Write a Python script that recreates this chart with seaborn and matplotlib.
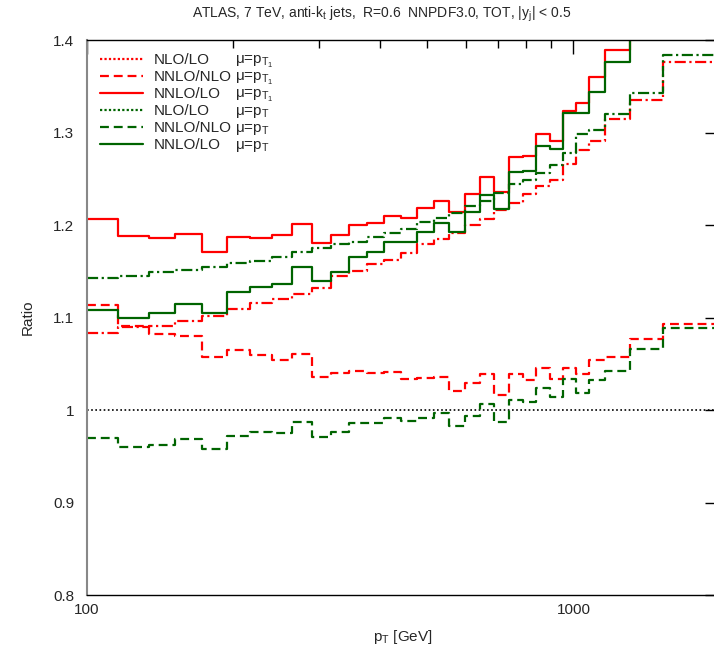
import numpy as np
import pandas as pd
import matplotlib
matplotlib.use("Agg")
import matplotlib.pyplot as plt
from matplotlib.lines import Line2D
import seaborn as sns

# ── data ───────────────────────────────────────────────────────────────────
edges = [100, 116, 134, 152, 172, 194, 216, 240, 264, 290, 318, 346, 376, 408,
         442, 478, 516, 556, 598, 642, 688, 736, 786, 838, 894, 952, 1012,
         1076, 1162, 1310, 1530, 1992]

nlo_lo_pt1 = [1.0836, 1.0900, 1.0908, 1.0966, 1.1020, 1.1089, 1.1153, 1.1200,
              1.1257, 1.1322, 1.1449, 1.1506, 1.1575, 1.1622, 1.1697, 1.1791,
              1.1845, 1.1910, 1.2000, 1.2061, 1.2162, 1.2241, 1.2335, 1.2425,
              1.2486, 1.2656, 1.2811, 1.2912, 1.3142, 1.3351, 1.3759]
nnlo_nlo_pt1 = [1.1135, 1.0905, 1.0818, 1.0800, 1.0576, 1.0645, 1.0591, 1.0540,
                1.0602, 1.0358, 1.0397, 1.0424, 1.0397, 1.0407, 1.0332, 1.0341,
                1.0360, 1.0205, 1.0287, 1.0388, 1.0162, 1.0389, 1.0324, 1.0457,
                1.0335, 1.0457, 1.0389, 1.0540, 1.0576, 1.0764, 1.0926]
nnlo_lo_pt1 = [1.2065, 1.1885, 1.1863, 1.1900, 1.1710, 1.1874, 1.1860, 1.1890,
               1.2010, 1.1805, 1.1895, 1.1997, 1.2025, 1.2097, 1.2080, 1.2187,
               1.2260, 1.2144, 1.2332, 1.2522, 1.2353, 1.2732, 1.2746, 1.2984,
               1.2908, 1.3236, 1.3316, 1.3603, 1.3890, 1.4500, 1.5000]
nlo_lo_pt = [1.1424, 1.1449, 1.1489, 1.1514, 1.1550, 1.1593, 1.1611, 1.1657,
             1.1705, 1.1748, 1.1791, 1.1820, 1.1874, 1.1910, 1.1955, 1.2036,
             1.2079, 1.2133, 1.2205, 1.2260, 1.2343, 1.2440, 1.2486, 1.2566,
             1.2649, 1.2774, 1.2980, 1.3027, 1.3200, 1.3430, 1.3834]
nnlo_nlo_pt = [0.9694, 0.9597, 0.9622, 0.9686, 0.9575, 0.9722, 0.9766, 0.9755,
               0.9874, 0.9708, 0.9762, 0.9860, 0.9860, 0.9917, 0.9881, 0.9917,
               0.9964, 0.9830, 0.9938, 1.0070, 0.9867, 1.0108, 1.0083, 1.0241,
               1.0137, 1.0335, 1.0187, 1.0324, 1.0422, 1.0656, 1.0890]
nnlo_lo_pt = [1.1081, 1.0991, 1.1045, 1.1150, 1.1052, 1.1279, 1.1330, 1.1359,
              1.1550, 1.1398, 1.1495, 1.1657, 1.1705, 1.1813, 1.1813, 1.1921,
              1.2018, 1.1920, 1.2136, 1.2328, 1.2173, 1.2576, 1.2584, 1.2854,
              1.2818, 1.3207, 1.3214, 1.3441, 1.3759, 1.4300, 1.4700]

series_names = ["nlo_lo_pt1", "nnlo_nlo_pt1", "nnlo_lo_pt1",
                "nlo_lo_pt", "nnlo_nlo_pt", "nnlo_lo_pt"]
series_vals = [nlo_lo_pt1, nnlo_nlo_pt1, nnlo_lo_pt1,
               nlo_lo_pt, nnlo_nlo_pt, nnlo_lo_pt]
ratio_labels = ["NLO/LO", "NNLO/NLO", "NNLO/LO", "NLO/LO", "NNLO/NLO", "NNLO/LO"]
scale_labels = [r"μ=p$_{\mathrm{T}_1}$"] * 3 + [r"μ=p$_\mathrm{T}$"] * 3

RED, GREEN = "#ff0000", "#006400"
colors = dict(zip(series_names, [RED] * 3 + [GREEN] * 3))
dashdot = (5, 1.6, 1, 1.6)
dashed = (4, 2.2)
dashes = dict(zip(series_names, [dashdot, dashed, "", dashdot, dashed, ""]))
legend_dashes = [(1, 1), dashed, None, (1, 1), dashed, None]

# long-form frame: step curves need the last edge repeated
rows = []
for name, vals in zip(series_names, series_vals):
    for x, y in zip(edges, list(vals) + [vals[-1]]):
        rows.append({"pt": x, "ratio": y, "series": name})
df = pd.DataFrame(rows)

# ── plot ───────────────────────────────────────────────────────────────────
sns.set_style("white")
plt.rcParams["font.family"] = ["Liberation Sans", "DejaVu Sans"]
plt.rcParams["mathtext.fontset"] = "custom"
plt.rcParams["mathtext.rm"] = "Liberation Sans"
plt.rcParams["mathtext.it"] = "Liberation Sans:italic"

fig = plt.figure(figsize=(7.14, 6.48), dpi=100)
ax = fig.add_axes([87 / 714, 53 / 648, 632 / 714, 555 / 648])

ax.axhline(1.0, color="black", lw=1.2, ls=(0, (1, 1.5)), zorder=1)

sns.lineplot(data=df, x="pt", y="ratio", hue="series", style="series",
             palette=colors, dashes=dashes, hue_order=series_names,
             style_order=series_names, estimator=None, sort=False,
             drawstyle="steps-post", lw=1.6, legend=False, ax=ax)

ax.set_xscale("log")
ax.set_xlim(100, 1992)
ax.set_ylim(0.8, 1.4)
ax.set_xticks([100, 1000])
ax.set_xticklabels(["100", "1000"])
ax.set_xticks([200, 300, 400, 500, 600, 700, 800, 900], minor=True)
ax.set_xticklabels([], minor=True)
yt = [0.8, 0.9, 1.0, 1.1, 1.2, 1.3, 1.4]
ax.set_yticks(yt)
ax.set_yticklabels(["0.8", "0.9", "1", "1.1", "1.2", "1.3", "1.4"])
ax.tick_params(which="both", direction="in", top=True, right=True,
               color="black", labelsize=11)
ax.tick_params(which="major", length=10, width=1)
ax.tick_params(which="minor", length=6, width=1)
ax.tick_params(axis="x", pad=6)
ax.tick_params(axis="y", pad=9)
for s in ax.spines.values():
    s.set_color("black")
    s.set_linewidth(1)
ax.spines["left"].set_color("#888888")
ax.spines["left"].set_linewidth(1.5)

ax.set_xlabel(r"p$_\mathrm{T}$ [GeV]", fontsize=11, labelpad=8)
ax.set_ylabel("Ratio", fontsize=11)
ax.yaxis.set_label_coords(-0.082, 0.5)

fig.text(382 / 714, 1 - 14 / 648,
         r"ATLAS, 7 TeV, anti-k$_\mathrm{t}$ jets,  R=0.6  NNPDF3.0, TOT, |y$_\mathrm{j}$| < 0.5",
         ha="center", va="center", fontsize=10)

# legend: line samples + ratio names, then the scale column aligned on baselines
handles = []
for name, dsh in zip(series_names, legend_dashes):
    h = Line2D([], [], color=colors[name], lw=1.6)
    if dsh is not None:
        h.set_dashes(dsh)
    handles.append(h)
leg = ax.legend(handles, ratio_labels, loc="upper left",
                bbox_to_anchor=(0.0, 1.0), frameon=False, fontsize=11,
                handlelength=2.8, handletextpad=0.7, labelspacing=0.2,
                borderaxespad=0.45)
fig.canvas.draw()
mu_x = (235 - 87) / 632
for t, lab in zip(leg.get_texts(), scale_labels):
    _, y_disp = t.get_transform().transform(t.get_position())
    _, y_ax = ax.transAxes.inverted().transform((0, y_disp))
    ax.text(mu_x, y_ax, lab, transform=ax.transAxes, ha="left",
            va="baseline", fontsize=11)

fig.savefig("out.png", dpi=100)
